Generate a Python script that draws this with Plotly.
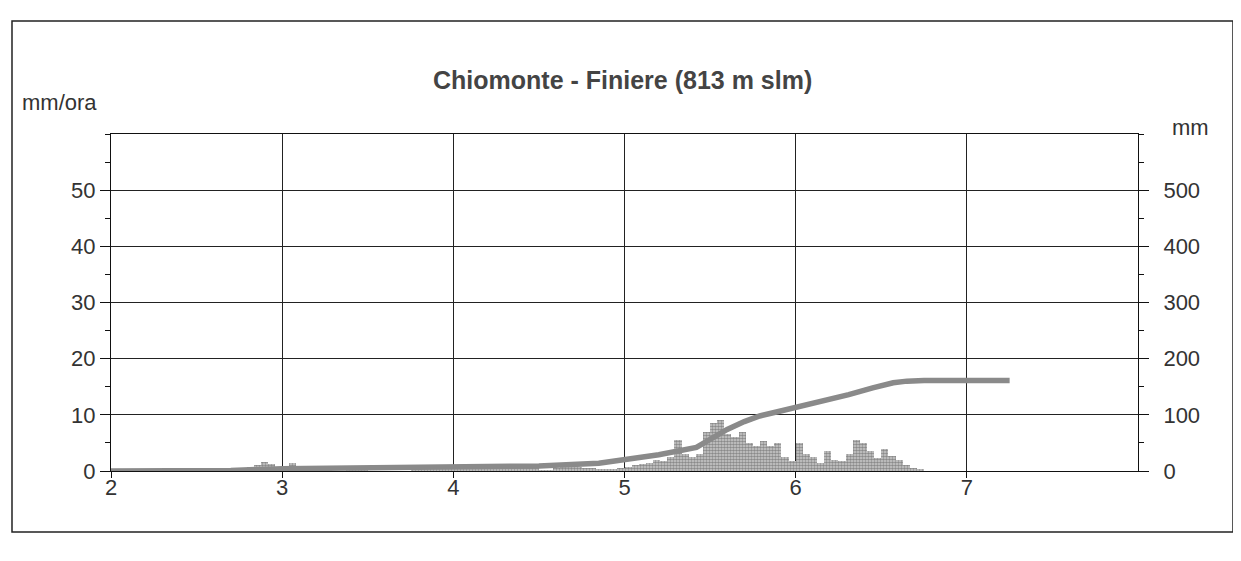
import plotly.graph_objects as go

# hourly rainfall (mm/ora), one value per hour starting at day 2, hour 0
rain_day2 = [0] * 17 + [0.3, 0.6, 0.8, 1.0, 1.6, 1.2, 0.8]
rain_day3 = [0.6, 1.4, 0.5, 0.3, 0.2, 0.2, 0.1, 0, 0, 0.2, 0.3, 0.2,
             0, 0, 0, 0, 0, 0, 0.2, 0.3, 0.3, 0.2, 0.3, 0.3]
rain_day4 = [0.3, 0.2, 0.4, 0.6, 0.5, 0.7, 0.5, 0.8, 0.6, 0.8, 0.7, 0.9,
             0.1, 0.1, 0.5, 0.7, 0.8, 0.7, 0.6, 0.6, 0.4, 0.3, 0.3, 0.5]
rain_day5 = [0.8, 1.0, 1.2, 1.5, 2.0, 1.8, 2.5, 5.5, 3.0, 2.5, 3.0, 7.0,
             8.5, 9.0, 6.5, 6.0, 7.0, 5.0, 4.5, 5.3, 4.5, 5.0, 2.5, 1.8]
rain_day6 = [5.0, 3.0, 2.5, 1.5, 3.5, 2.0, 1.8, 3.0, 5.5, 5.0, 3.5, 2.3,
             4.0, 2.6, 2.0, 1.0, 0.6, 0.4]

# cumulated rainfall (mm)
cum_day = [2.0, 2.7, 3.0, 3.5, 4.0, 4.5, 4.85, 5.0, 5.2, 5.42, 5.5, 5.6,
           5.7, 5.79, 5.9, 6.0, 6.15, 6.31, 6.45, 6.57, 6.65, 6.75, 7.25]
cum_mm = [0, 1, 4, 5, 6, 9, 14, 20, 29, 42, 57, 74,
          88, 98, 106, 113, 124, 136, 148, 157, 160, 161, 161]

left_ticks = [0, 10, 20, 30, 40, 50]
right_ticks = [0, 100, 200, 300, 400, 500]
day_ticks = [2, 3, 4, 5, 6, 7]

title = "Chiomonte - Finiere (813 m slm)"

hourly = rain_day2 + rain_day3 + rain_day4 + rain_day5 + rain_day6
hour_x = [2 + (i + 0.5) / 24 for i in range(len(hourly))]

FONT = "Liberation Sans, Arial, sans-serif"
INK = "#333333"

fig = go.Figure()
fig.add_trace(go.Bar(
    x=hour_x, y=hourly, width=1 / 24,
    marker=dict(color="#c8c8c8", line=dict(width=0),
                pattern=dict(shape=".", fgcolor="#444444", bgcolor="#d0d0d0",
                             size=3, solidity=0.6)),
    yaxis="y", showlegend=False,
))
fig.add_trace(go.Scatter(
    x=cum_day, y=cum_mm, mode="lines",
    line=dict(color="#8a8a8a", width=5.5),
    yaxis="y2", showlegend=False,
))

axis_common = dict(showline=True, linecolor="#111111", linewidth=1,
                   ticks="outside", tickcolor="#111111",
                   tickfont=dict(family=FONT, size=22, color=INK),
                   zeroline=False)

# page body adds 8px around the figure, so the figure is 16px smaller
fig.update_layout(
    width=1225, height=545,
    paper_bgcolor="white", plot_bgcolor="white",
    margin=dict(l=103, r=95, t=126, b=82),
    bargap=0,
    font=dict(family=FONT, color=INK),
    xaxis=dict(range=[2, 8], tickvals=day_ticks, ticklen=6,
               ticklabelstandoff=-9,
               showgrid=True, gridcolor="#222222", gridwidth=1,
               mirror=True, **axis_common),
    yaxis=dict(range=[0, 60], tickvals=left_ticks, ticklen=10,
               showgrid=True, gridcolor="#222222", gridwidth=1,
               minor=dict(dtick=5, ticks="outside", ticklen=5,
                          tickcolor="#111111", showgrid=False),
               **axis_common),
    yaxis2=dict(range=[0, 600], tickvals=right_ticks, ticklen=10,
                overlaying="y", side="right", showgrid=False,
                ticklabelstandoff=10,
                minor=dict(dtick=50, ticks="outside", ticklen=5,
                           tickcolor="#111111", showgrid=False),
                **axis_common),
    shapes=[dict(type="rect", xref="paper", yref="paper",
                 x0=-0.0964, x1=1.0925, y0=-0.181, y1=1.335,
                 line=dict(color="#222222", width=1.5))],
    annotations=[
        dict(text="<b>" + title + "</b>", xref="paper", yref="paper",
             x=0.4985, y=1.16, xanchor="center", yanchor="middle",
             showarrow=False, font=dict(family=FONT, size=25, color="#444444")),
        dict(text="mm/ora", xref="paper", yref="paper",
             x=-0.0886, y=1.092, xanchor="left", yanchor="middle",
             showarrow=False, font=dict(family=FONT, size=22, color=INK)),
        dict(text="mm", xref="paper", yref="paper",
             x=1.031, y=1.018, xanchor="left", yanchor="middle",
             showarrow=False, font=dict(family=FONT, size=22, color=INK)),
    ],
)

fig.write_html("out.html")
